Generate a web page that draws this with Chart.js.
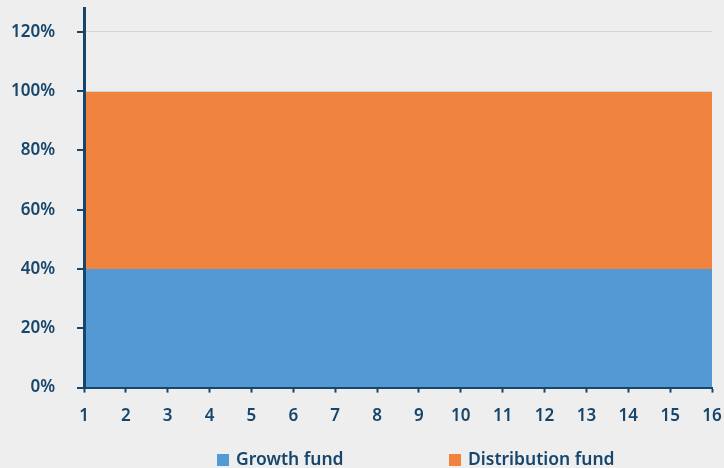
<!DOCTYPE html>
<html>
<head>
<meta charset="utf-8">
<script src="https://cdn.jsdelivr.net/npm/chart.js@4"></script>
<style>
  html, body { margin: 0; padding: 0; background: #eeeeee; }
  #wrap { position: relative; width: 724px; height: 468px; }
  #legend {
    position: absolute; left: 0; top: 446px; width: 724px;
    font: 600 17.5px "Noto Sans", sans-serif; color: #17466d;
  }
  #legend span.item { position: absolute; top: 0; white-space: nowrap; }
  #legend span.box {
    display: inline-block; width: 12px; height: 12px; margin-right: 7px;
    vertical-align: -1px;
  }
</style>
</head>
<body>
<div id="wrap">
  <canvas id="chart" width="724" height="468"></canvas>
  <div id="legend"></div>
</div>
<script>
// 데이터
const years = ['1', '2', '3', '4', '5', '6', '7', '8', '9', '10', '11', '12', '13', '14', '15', '16'];
const growthFund = [0.4, 0.4, 0.4, 0.4, 0.4, 0.4, 0.4, 0.4, 0.4, 0.4, 0.4, 0.4, 0.4, 0.4, 0.4, 0.4];
const distributionFund = [0.6, 0.6, 0.6, 0.6, 0.6, 0.6, 0.6, 0.6, 0.6, 0.6, 0.6, 0.6, 0.6, 0.6, 0.6, 0.6];
const yTicks = [0, 0.2, 0.4, 0.6, 0.8, 1.0, 1.2];

const navy = '#17466d';
const labelFont = { family: '"Noto Sans", sans-serif', size: 17, weight: '600' };

// 축 여백 제거 (틱 라벨 패딩이 차트 영역을 줄이지 않도록)
function noPadding(axis) {
    axis.paddingTop = 0;
    axis.paddingBottom = 0;
    axis.paddingLeft = 0;
    axis.paddingRight = 0;
}

// y축 눈금 표시 (축 왼쪽으로 짧은 선)
const yTickMarks = {
    id: 'yTickMarks',
    afterDraw(chart) {
        const scale = chart.scales.y;
        const ctx = chart.ctx;
        const x = chart.chartArea.left;
        ctx.save();
        ctx.strokeStyle = navy;
        ctx.lineWidth = 2;
        yTicks.forEach(v => {
            const y = Math.round(scale.getPixelForValue(v));
            ctx.beginPath();
            ctx.moveTo(x - 7, y);
            ctx.lineTo(x, y);
            ctx.stroke();
        });
        ctx.restore();
    }
};

const chart = new Chart(document.getElementById('chart'), {
    type: 'line',
    data: {
        labels: years,
        datasets: [{
            label: 'Growth fund',
            data: growthFund,
            backgroundColor: '#5499d4',
            borderWidth: 0,
            pointRadius: 0,
            fill: 'origin',
        }, {
            label: 'Distribution fund',
            data: distributionFund,
            backgroundColor: '#f0833e',
            borderWidth: 0,
            pointRadius: 0,
            fill: '-1',
        }],
    },
    options: {
        responsive: false,
        animation: false,
        layout: {
            padding: { left: 0, right: 12, top: 8, bottom: 29 }
        },
        scales: {
            x: {
                offset: false,
                afterFit: noPadding,
                grid: {
                    z: 1,
                    drawOnChartArea: false,
                    drawTicks: true,
                    tickLength: 5,
                    tickColor: navy,
                    tickWidth: 2,
                },
                border: { color: navy, width: 2, z: 1 },
                ticks: { color: navy, font: labelFont, padding: 13, maxRotation: 0, autoSkip: false },
            },
            y: {
                stacked: true,
                min: 0,
                max: 1.28,
                afterBuildTicks: (axis) => {
                    axis.ticks = yTicks.map(v => ({ value: v }));
                },
                afterFit: (axis) => {
                    noPadding(axis);
                    axis.width = 84;
                },
                grid: {
                    z: 1,
                    // 영역 위로는 100%, 120% 격자선만 보이게
                    color: (ctx) => (ctx.tick && ctx.tick.value >= 1) ? '#d4d4d4' : 'rgba(0,0,0,0)',
                    lineWidth: 1,
                    drawTicks: false,
                },
                border: { color: navy, width: 3, z: 2 },
                ticks: {
                    color: navy,
                    font: labelFont,
                    padding: 29,
                    callback: (v) => Math.round(v * 100) + '%',
                },
            },
        },
        plugins: {
            legend: { display: false },
            tooltip: { enabled: false },
        }
    },
    plugins: [yTickMarks]
});

// 범례
const legendPos = [217, 449];
const legendEl = document.getElementById('legend');
chart.data.datasets.forEach((ds, i) => {
    const item = document.createElement('span');
    item.className = 'item';
    item.style.left = legendPos[i] + 'px';
    item.innerHTML = `<span class="box" style="background:${ds.backgroundColor}"></span>${ds.label}`;
    legendEl.appendChild(item);
});
</script>
</body>
</html>
